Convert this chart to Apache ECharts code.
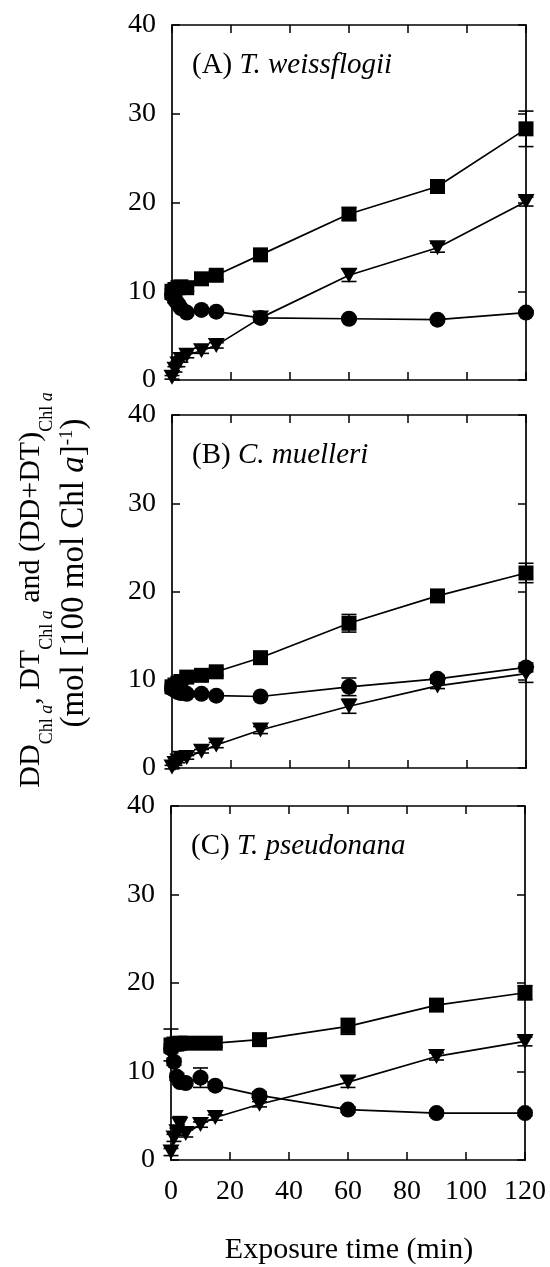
<!DOCTYPE html>
<html>
<head>
<meta charset="utf-8">
<script src="https://cdn.jsdelivr.net/npm/echarts@6/dist/echarts.min.js"></script>
<style>
  html, body { margin: 0; padding: 0; background: #fff; }
  #chart { width: 550px; height: 1267px; }
</style>
</head>
<body>
<div id="chart"></div>
<script>
// Exposure times (min)
const times = [0, 1, 2, 3, 5, 10, 15, 30, 60, 90, 120];
const xTicks = [0, 20, 40, 60, 80, 100, 120];
const yTicks = [0, 10, 20, 30, 40];

// (A) T. weissflogii
const aSum = [10.0, 10.2, 10.4, 10.5, 10.4, 11.4, 11.8, 14.1, 18.7, 21.8, 28.3];
const aSumErr = [0.3, 0.4, 0.4, 0.4, 0.4, 0.5, 0.5, 0.5, 0.7, 0.6, 2.0];
const aDD = [9.6, 9.0, 8.6, 8.1, 7.6, 7.9, 7.7, 7.0, 6.9, 6.8, 7.6];
const aDDErr = [0.5, 0.3, 0.3, 0.3, 0.2, 0.2, 0.2, 0.2, 0.2, 0.2, 0.2];
const aDT = [0.3, 1.2, 1.8, 2.3, 2.8, 3.3, 3.9, 7.0, 11.8, 14.9, 20.1];
const aDTErr = [0.2, 0.3, 0.3, 0.3, 0.3, 0.3, 0.3, 0.3, 0.7, 0.5, 0.5];

// (B) C. muelleri
const bSum = [9.2, 9.4, 9.6, 9.8, 10.3, 10.5, 10.9, 12.5, 16.4, 19.5, 22.1];
const bSumErr = [0.3, 0.3, 0.3, 0.3, 0.3, 0.3, 0.4, 0.4, 1.0, 0.5, 1.1];
const bDD = [9.0, 8.8, 8.6, 8.5, 8.4, 8.4, 8.2, 8.1, 9.2, 10.1, 11.4];
const bDDErr = [0.3, 0.3, 0.3, 0.3, 0.3, 0.2, 0.2, 0.2, 1.0, 0.4, 0.5];
const bDT = [0.1, 0.5, 0.8, 1.1, 1.2, 1.9, 2.6, 4.3, 7.0, 9.3, 10.7];
const bDTErr = [0.2, 0.2, 0.2, 0.2, 0.2, 0.2, 0.3, 0.4, 0.8, 0.3, 1.0];

// (C) T. pseudonana
const cSum = [13.0, 13.1, 13.1, 13.2, 13.2, 13.2, 13.2, 13.6, 15.1, 17.5, 18.9];
const cSumErr = [1.8, 0.5, 0.5, 0.5, 0.5, 0.6, 0.4, 0.4, 0.9, 0.6, 0.8];
const cDD = [12.6, 11.1, 9.4, 8.8, 8.7, 9.3, 8.4, 7.3, 5.7, 5.3, 5.3];
const cDDErr = [0.5, 0.4, 0.4, 0.3, 0.3, 1.1, 0.3, 0.4, 0.3, 0.3, 0.3];
const cDT = [0.9, 2.5, 3.2, 4.0, 3.0, 4.0, 4.8, 6.3, 8.8, 11.7, 13.4];
const cDTErr = [0.4, 0.4, 0.4, 0.9, 0.4, 0.3, 0.3, 0.3, 0.6, 0.4, 0.5];

const panelLabels = ['(A) ', '(B) ', '(C) '];
const speciesNames = ['T. weissflogii', 'C. muelleri', 'T. pseudonana'];

const panels = [
  { sum: aSum, sumErr: aSumErr, dd: aDD, ddErr: aDDErr, dt: aDT, dtErr: aDTErr },
  { sum: bSum, sumErr: bSumErr, dd: bDD, ddErr: bDDErr, dt: bDT, dtErr: bDTErr },
  { sum: cSum, sumErr: cSumErr, dd: cDD, ddErr: cDDErr, dt: cDT, dtErr: cDTErr }
];

const FONT = '"Liberation Serif", "Times New Roman", serif';
const INK = '#000';

const gridLayout = [
  { left: 172, width: 354, top: 25, height: 355 },
  { left: 172, width: 354, top: 415, height: 353 },
  { left: 171, width: 354, top: 806, height: 354 }
];

const xMin = xTicks[0], xMax = xTicks[xTicks.length - 1], xStep = xTicks[1] - xTicks[0];
const yMin = yTicks[0], yMax = yTicks[yTicks.length - 1], yStep = yTicks[1] - yTicks[0];

function makeX(gi, pos, labels) {
  return {
    type: 'value', gridIndex: gi, position: pos, min: xMin, max: xMax, interval: xStep,
    axisLine: { show: true, onZero: false, lineStyle: { color: INK, width: 1.7 } },
    axisTick: { show: true, inside: true, length: 8, lineStyle: { color: INK, width: 1.5 } },
    axisLabel: { show: labels, margin: 18, color: INK, fontFamily: FONT, fontSize: 28 },
    splitLine: { show: false }
  };
}
function makeY(gi, pos, labels) {
  return {
    type: 'value', gridIndex: gi, position: pos, min: yMin, max: yMax, interval: yStep,
    axisLine: { show: true, onZero: false, lineStyle: { color: INK, width: 1.7 } },
    axisTick: { show: true, inside: true, length: 8, lineStyle: { color: INK, width: 1.5 } },
    axisLabel: { show: labels, margin: 16, color: INK, fontFamily: FONT, fontSize: 28 },
    splitLine: { show: false }
  };
}

// vertical error bar with caps
function errorBar(params, api) {
  const t = api.value(0), v = api.value(1), e = api.value(2);
  const hi = api.coord([t, v + e]);
  const lo = api.coord([t, v - e]);
  const hw = 7.5;
  const st = { stroke: INK, lineWidth: 1.6 };
  return {
    type: 'group',
    children: [
      { type: 'line', shape: { x1: hi[0], y1: hi[1], x2: lo[0], y2: lo[1] }, style: st },
      { type: 'line', shape: { x1: hi[0] - hw, y1: hi[1], x2: hi[0] + hw, y2: hi[1] }, style: st },
      { type: 'line', shape: { x1: lo[0] - hw, y1: lo[1], x2: lo[0] + hw, y2: lo[1] }, style: st }
    ]
  };
}

const xAxes = [], yAxes = [], series = [], graphics = [];
panels.forEach((p, i) => {
  xAxes.push(makeX(i, 'bottom', i === 2));
  xAxes.push(makeX(i, 'top', false));
  yAxes.push(makeY(i, 'left', true));
  yAxes.push(makeY(i, 'right', false));
  const xi = i * 2, yi = i * 2;
  const sets = [
    { vals: p.sum, errs: p.sumErr, symbol: 'rect', size: 15, rot: 0, name: 'DD+DT' },
    { vals: p.dd, errs: p.ddErr, symbol: 'circle', size: 16, rot: 0, name: 'DD' },
    { vals: p.dt, errs: p.dtErr, symbol: 'triangle', size: [17, 15], rot: 180, name: 'DT' }
  ];
  sets.forEach(s => {
    series.push({
      type: 'custom', name: s.name + ' error', xAxisIndex: xi, yAxisIndex: yi,
      renderItem: errorBar, clip: false, z: 1, silent: true,
      encode: { x: 0, y: 1 },
      data: times.map((t, k) => [t, s.vals[k], s.errs[k]])
    });
    series.push({
      type: 'line', name: s.name, xAxisIndex: xi, yAxisIndex: yi, clip: false, z: 3,
      symbol: s.symbol, symbolSize: s.size, symbolRotate: s.rot, showAllSymbol: true,
      lineStyle: { color: INK, width: 1.7 },
      itemStyle: { color: INK, borderColor: INK, borderWidth: 0 },
      emphasis: { disabled: true },
      data: times.map((t, k) => [t, s.vals[k]])
    });
  });
  const g = gridLayout[i];
  graphics.push({
    type: 'text', left: g.left + 20, top: g.top + 26,
    style: {
      text: '{n|' + panelLabels[i] + '}{it|' + speciesNames[i] + '}',
      fill: INK,
      rich: {
        n: { fontFamily: FONT, fontSize: 29, fill: INK },
        it: { fontFamily: FONT, fontSize: 29, fontStyle: 'italic', fill: INK }
      }
    }
  });
});

const subStyle = { fontFamily: FONT, fontSize: 18, lineHeight: 18, verticalAlign: 'top', padding: [22, 0, 0, 0], fill: INK };
const subItalic = Object.assign({}, subStyle, { fontStyle: 'italic' });
const mainStyle = { fontFamily: FONT, fontSize: 30, lineHeight: 30, verticalAlign: 'top', fill: INK };
const main2Style = { fontFamily: FONT, fontSize: 33, lineHeight: 33, verticalAlign: 'top', fill: INK };

// Y-axis title, two rotated lines
graphics.push({
  type: 'text', x: 31, y: 590, rotation: Math.PI / 2,
  style: {
    text: '{m|DD}{s|Chl }{si|a}{m|, DT}{s|Chl }{si|a}{m| and (DD+DT)}{s|Chl }{si|a}',
    align: 'center', verticalAlign: 'middle', fill: INK,
    rich: { m: mainStyle, s: subStyle, si: subItalic }
  }
});
graphics.push({
  type: 'text', x: 74, y: 573, rotation: Math.PI / 2,
  style: {
    text: '{m|(mol [100 mol Chl }{mi|a}{m|]}{p|-1}{m|)}',
    align: 'center', verticalAlign: 'middle', fill: INK,
    rich: {
      m: main2Style,
      mi: Object.assign({}, main2Style, { fontStyle: 'italic' }),
      p: { fontFamily: FONT, fontSize: 19, lineHeight: 19, verticalAlign: 'top', fill: INK }
    }
  }
});
// X-axis title
graphics.push({
  type: 'text', x: 349, y: 1250,
  style: {
    text: 'Exposure time (min)', align: 'center', verticalAlign: 'middle',
    fontFamily: FONT, fontSize: 30, fill: INK
  }
});

const chart = echarts.init(document.getElementById('chart'), null, { renderer: 'canvas' });
chart.setOption({
  backgroundColor: '#fff',
  animation: false,
  grid: gridLayout.map(g => Object.assign({ containLabel: false }, g)),
  xAxis: xAxes,
  yAxis: yAxes,
  series: series,
  graphic: graphics
});
</script>
</body>
</html>
